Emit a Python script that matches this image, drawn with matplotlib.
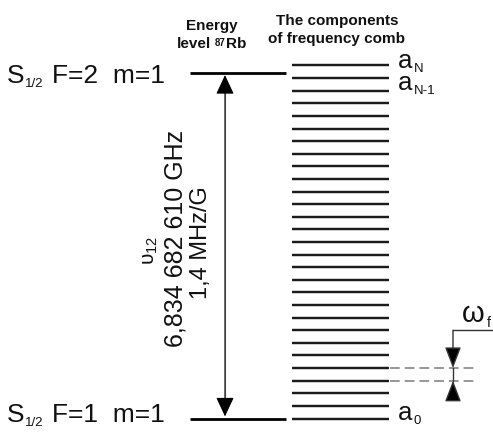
import matplotlib
matplotlib.use("Agg")
import matplotlib.pyplot as plt

plt.rcParams['font.family'] = ['Liberation Sans', 'DejaVu Sans']
plt.rcParams['mathtext.fontset'] = 'custom'
plt.rcParams['mathtext.rm'] = 'Liberation Sans'
plt.rcParams['mathtext.it'] = 'Liberation Sans:italic'
plt.rcParams['mathtext.bf'] = 'Liberation Sans:bold'
plt.rcParams['lines.scale_dashes'] = False

# ---------------- data ----------------
level_names = ["F=2  m=1", "F=1  m=1"]
level_sub = "1/2"
level_energy = [1.0, 0.0]            # upper / lower hyperfine level (normalised)
n_comb = 29                          # number of comb components a_0 ... a_N
comb_step = 0.03649                  # comb spacing in the same normalised units
comb_label_idx = [28, 27, 0]
comb_label_sub = ["N", "N-1", "0"]
beat_pair = [3, 4]                   # comb lines marked by the omega_f bracket
transition_freq = "6,834 682 610 GHz"
zeeman_shift = "1,4 MHz/G"
transition_symbol = "υ$_{12}$"
header_level = ["Energy", "level", "87", "Rb"]
header_comb = ["The components", "of frequency comb"]
omega_label = ["ω", "f"]

# ---------------- layout helpers ----------------
W, H = 493, 432
Y0, SCALE = 418.5, 345.5             # pixel row of the lower level, pixels per unit


def py(px):
    return (Y0 - px) / SCALE


fig = plt.figure(figsize=(W / 100, H / 100), dpi=100)
ax = fig.add_axes([0, 0, 1, 1])
ax.set_xlim(0, W)
ax.set_ylim(py(H), py(0))
ax.axis('off')

TXT = '#111111'


def chain(x, y, base, sub, size, subsize, rest=None, dy=0, sub_dy=0.5,
          gap=0.3, rest_gap=5.5, weight='normal'):
    t = ax.annotate(base, xy=(x, y), xytext=(0, dy), textcoords='offset points',
                    fontsize=size, va='baseline', ha='left', color=TXT,
                    weight=weight, annotation_clip=False)
    s = ax.annotate(sub, xy=(1, 0), xycoords=t, xytext=(gap, sub_dy),
                    textcoords='offset points', fontsize=subsize,
                    va='baseline', ha='left', color=TXT, weight=weight,
                    annotation_clip=False)
    if rest:
        ax.annotate(rest, xy=(1, 0), xycoords=(s, t), xytext=(rest_gap, 0),
                    textcoords='offset points', fontsize=size, va='bottom',
                    ha='left', color=TXT, weight=weight, annotation_clip=False)
    return t, s


# ---------------- energy levels ----------------
label_dy = [-7.4, -2.4]
for name, e, dy in zip(level_names, level_energy, label_dy):
    ax.plot([190, 286], [e, e], color='black', lw=2.0, solid_capstyle='butt')
    chain(7, e, "S", level_sub, 19, 9.5, rest=name, dy=dy, sub_dy=0.8, rest_gap=6.5)

# transition arrow
ax.annotate('', xy=(225, level_energy[0]), xytext=(225, level_energy[1]),
            arrowprops=dict(arrowstyle='<|-|>,head_length=12,head_width=5.6',
                            mutation_scale=1, lw=0.8, color='#8a8a8a',
                            fc='black', ec='black', shrinkA=1.5, shrinkB=1.5))
ax.plot([225, 225], [level_energy[1] + 0.04, level_energy[0] - 0.04],
        color='#8a8a8a', lw=0.8)

# ---------------- frequency comb ----------------
comb_y = [i * comb_step for i in range(n_comb)]
for y in comb_y:
    ax.plot([292, 389], [y, y], color='#1c1c1c', lw=1.75, solid_capstyle='butt')

lab_dy = {28: -1.8, 27: -8.6, 0: -1.2}
for idx, sub in zip(comb_label_idx, comb_label_sub):
    chain(398, comb_y[idx], "a", sub, 18.5, 9.5, dy=lab_dy[idx], sub_dy=0.5, gap=0.8)

# ---------------- omega_f bracket ----------------
lo, hi = beat_pair
for i in beat_pair:
    ax.plot([390, 476], [comb_y[i], comb_y[i]], color='#7a7a7a', lw=1.1,
            dashes=(7, 3.6))
bx = 453
top = comb_y[hi] + 3.0 * comb_step
ax.plot([bx, W], [top, top], color='#333333', lw=1.0)
ax.annotate('', xy=(bx, comb_y[hi]), xytext=(bx, top),
            arrowprops=dict(arrowstyle='-|>,head_length=13,head_width=5',
                            mutation_scale=1, lw=1.0, color='#333333',
                            fc='black', shrinkA=0, shrinkB=0))
ax.annotate('', xy=(bx, comb_y[lo]), xytext=(bx, comb_y[lo] - 1.55 * comb_step),
            arrowprops=dict(arrowstyle='-|>,head_length=13,head_width=5',
                            mutation_scale=1, lw=1.0, color='#333333',
                            fc='black', shrinkA=0, shrinkB=0))
ax.plot([bx, bx], [comb_y[lo], comb_y[hi]], color='#333333', lw=1.0)
chain(462, py(322), omega_label[0], omega_label[1], 21, 10, sub_dy=0.5, gap=1.5)

# ---------------- rotated annotations ----------------
ax.text(175, py(238), transition_freq, rotation=90, ha='center', va='center',
        fontsize=18, color=TXT)
ax.text(200.5, py(243), zeeman_shift, rotation=90, ha='center', va='center',
        fontsize=17, color=TXT)
ax.text(150, py(250), transition_symbol, rotation=90, ha='center', va='center',
        fontsize=15, color=TXT)

# ---------------- headers ----------------
ax.text(212, py(30), header_level[0], ha='center', va='baseline', fontsize=11,
        weight='bold', color=TXT)
t = ax.text(177, py(48), header_level[1], ha='left', va='baseline', fontsize=11,
            weight='bold', color=TXT)
s = ax.annotate(header_level[2], xy=(1, 1), xycoords=t, xytext=(2.6, -0.6),
                textcoords='offset points', fontsize=7, weight='bold',
                va='top', ha='left', color=TXT)
ax.annotate(header_level[3], xy=(1, 0), xycoords=(s, t), xytext=(0.5, 0),
            textcoords='offset points', fontsize=11, weight='bold',
            va='bottom', ha='left', color=TXT)
ax.text(337, py(25), header_comb[0], ha='center', va='baseline', fontsize=11,
        weight='bold', color=TXT)
ax.text(337, py(43), header_comb[1], ha='center', va='baseline', fontsize=11,
        weight='bold', color=TXT)

fig.savefig("out.png", dpi=100)
